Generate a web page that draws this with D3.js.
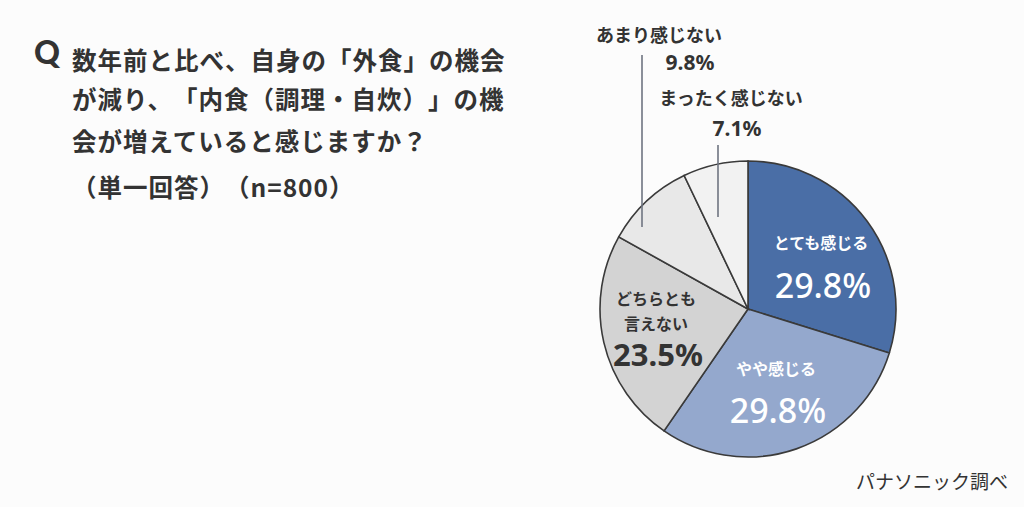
<!DOCTYPE html>
<html>
<head>
<meta charset="utf-8">
<script src="https://cdn.jsdelivr.net/npm/d3@7"></script>
<style>
  html, body { margin: 0; padding: 0; background: #fcfcfc; }
  svg { display: block; font-family: "Noto Sans CJK JP", "Noto Sans", sans-serif; text-spacing-trim: space-all; }
</style>
</head>
<body>
<svg id="chart" width="1024" height="507"></svg>
<script>
// answers, clockwise from 12 o'clock
const categories = ['とても感じる', 'やや感じる', 'どちらとも言えない', 'あまり感じない', 'まったく感じない']
const values = [29.8, 29.8, 23.5, 9.8, 7.1]
const colors = ['#4a6ea6', '#94a8cd', '#d3d3d3', '#e8e8e8', '#f2f2f2']
const titleLines = [
  '数年前と比べ、自身の「外食」の機会',
  'が減り、「内食（調理・自炊）」の機',
  '会が増えていると感じますか？',
  '（単一回答）（n=800）',
]
const source = 'パナソニック調べ'

const svg = d3.select('#chart')
const cx = 748
const cy = 309
const radius = 148

// title
svg.append('text')
  .attr('x', 34)
  .attr('y', 64)
  .attr('font-family', 'Lato, "Noto Sans", sans-serif')
  .attr('font-weight', 900)
  .attr('font-size', 32)
  .attr('fill', '#333')
  .text('Q')

const titleY = [70, 109, 151, 197]
svg.append('g')
  .selectAll('text')
  .data(titleLines)
  .join('text')
  .attr('x', 72)
  .attr('y', (d, i) => titleY[i])
  .attr('font-weight', 700)
  .attr('font-size', 24.5)
  .attr('letter-spacing', 1)
  .attr('fill', '#333')
  .text((d) => d)

// pie
const pie = d3.pie().sort(null).value((d) => d)
const arc = d3.arc().innerRadius(0).outerRadius(radius)
const slices = pie(values)

const g = svg.append('g').attr('transform', `translate(${cx}, ${cy})`)

g.selectAll('path')
  .data(slices)
  .join('path')
  .attr('d', arc)
  .attr('fill', (d, i) => colors[i])
  .attr('stroke', '#3a3a3a')
  .attr('stroke-width', 1.6)

// label layout, offsets from the pie centre
const inside = [
  {lines: ['とても感じる'], dx: 73, dy: -66, pct: -23, color: '#fff', pctWeight: 500, pctSize: 34},
  {lines: ['やや感じる'], dx: 28, dy: 60, pct: 102, color: '#fff', pctWeight: 500, pctSize: 34},
  {lines: ['どちらとも', '言えない'], dx: -92, dy: -10, pct: 46, color: '#333', pctWeight: 700, pctSize: 31},
]
inside.forEach((l, i) => {
  l.lines.forEach((t, j) => {
    g.append('text')
      .attr('x', l.dx)
      .attr('y', l.dy + j * 25)
      .attr('dy', '0.35em')
      .attr('text-anchor', 'middle')
      .attr('font-weight', 700)
      .attr('font-size', 16)
      .attr('fill', l.color)
      .text(t)
  })
  g.append('text')
    .attr('x', l.dx + 2)
    .attr('y', l.pct)
    .attr('dy', '0.35em')
    .attr('text-anchor', 'middle')
    .attr('font-family', '"Noto Sans", "Open Sans", sans-serif')
    .attr('font-weight', l.pctWeight)
    .attr('font-size', l.pctSize)
    .attr('fill', l.color)
    .text(d3.format('.1f')(values[i]) + '%')
})

// outside labels with leader lines
const outside = [
  {i: 3, x: -89, y: -273, px: -58, py: -246, lx: -106, ly1: -254, ly2: -82},
  {i: 4, x: -17, y: -210, px: -11, py: -180, lx: -30, ly1: -164, ly2: -92},
]
outside.forEach((l) => {
  g.append('line')
    .attr('x1', l.lx).attr('x2', l.lx)
    .attr('y1', l.ly1).attr('y2', l.ly2)
    .attr('stroke', '#6e7480')
    .attr('stroke-width', 1.6)
  g.append('text')
    .attr('x', l.x)
    .attr('y', l.y)
    .attr('dy', '0.35em')
    .attr('text-anchor', 'middle')
    .attr('font-weight', 700)
    .attr('font-size', 18)
    .attr('fill', '#333')
    .text(categories[l.i])
  g.append('text')
    .attr('x', l.px)
    .attr('y', l.py)
    .attr('dy', '0.35em')
    .attr('text-anchor', 'middle')
    .attr('font-family', '"Noto Sans", "Open Sans", sans-serif')
    .attr('font-weight', 700)
    .attr('font-size', 21)
    .attr('fill', '#333')
    .text(d3.format('.1f')(values[l.i]) + '%')
})

// source
svg.append('text')
  .attr('x', 1008)
  .attr('y', 482)
  .attr('dy', '0.35em')
  .attr('text-anchor', 'end')
  .attr('font-size', 19)
  .attr('fill', '#333')
  .text(source)
</script>
</body>
</html>
